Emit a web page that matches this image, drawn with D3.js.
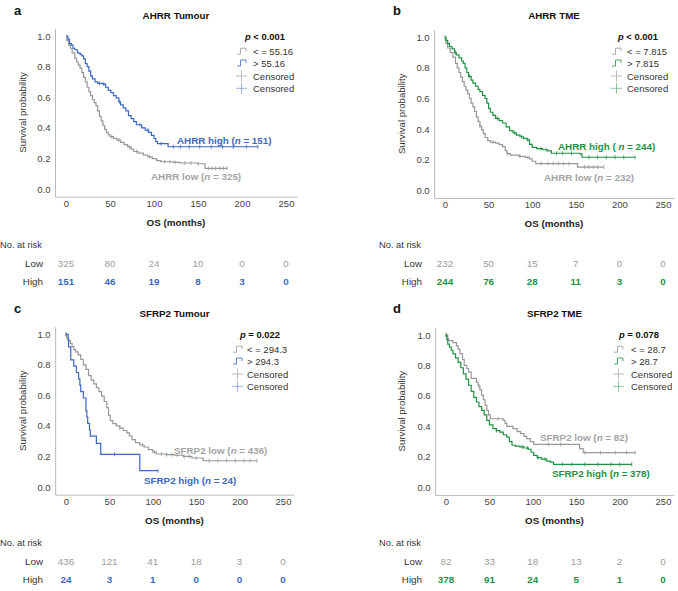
<!DOCTYPE html>
<html><head><meta charset="utf-8">
<script src="https://cdn.jsdelivr.net/npm/d3@7"></script>
<style>body{margin:0;background:#fff} svg{display:block} text{font-family:"Liberation Sans",Arial,Helvetica,sans-serif}</style>
</head><body><svg id="chart" width="678" height="591"></svg>
<script>
// ---------- data ----------
const xTicks = [0, 50, 100, 150, 200, 250];
const yTicks = [0, 0.2, 0.4, 0.6, 0.8, 1.0];
const riskTimes = [0, 50, 100, 150, 200, 250];
const panelLetters = ["a", "b", "c", "d"];
const panelTitles = ["AHRR Tumour", "AHRR TME", "SFRP2 Tumour", "SFRP2 TME"];
const pOps = ["<", "<", "=", "="];
const pValues = ["0.001", "0.001", "0.022", "0.078"];
const cutLow = ["< = 55.16", "< = 7.815", "< = 294.3", "< = 28.7"];
const cutHigh = ["> 55.16", "> 7.815", "> 294.3", "> 28.7"];
const geneNames = ["AHRR", "AHRR", "SFRP2", "SFRP2"];
const nLow = [325, 232, 436, 82];
const nHigh = [151, 244, 24, 378];
const riskLow = [
  [325, 80, 24, 10, 0, 0],
  [232, 50, 15, 7, 0, 0],
  [436, 121, 41, 18, 3, 0],
  [82, 33, 18, 13, 2, 0]
];
const riskHigh = [
  [151, 46, 19, 8, 3, 0],
  [244, 76, 28, 11, 3, 0],
  [24, 3, 1, 0, 0, 0],
  [378, 91, 24, 5, 1, 0]
];

// Kaplan-Meier steps [months, survival]
const aLowSteps = [[0,1.0],[1,0.97],[3,0.94],[5,0.92],[7,0.89],[10,0.855],[12,0.83],[14,0.81],[16,0.79],[18,0.76],[20,0.73],[22,0.70],[24,0.665],[26,0.635],[28,0.61],[30,0.585],[32,0.565],[34,0.545],[36,0.51],[38,0.475],[40,0.445],[42,0.415],[44,0.39],[46,0.37],[48,0.355],[50,0.342],[54,0.33],[58,0.32],[62,0.305],[66,0.29],[70,0.275],[74,0.26],[77,0.245],[82,0.235],[88,0.222],[93,0.21],[98,0.198],[103,0.185],[108,0.178],[122,0.174],[130,0.17],[150,0.165],[158,0.135],[183,0.135]];
const aLowCensor = [52,60,72,80,95,112,118,124,135,142,150,162,166,170,175,179,183];
const aHighSteps = [[0,1.0],[2,0.98],[4,0.95],[6,0.94],[8,0.92],[10,0.91],[13,0.89],[16,0.88],[18,0.87],[20,0.85],[22,0.82],[24,0.80],[26,0.77],[28,0.74],[30,0.72],[33,0.70],[36,0.69],[42,0.685],[45,0.665],[48,0.645],[51,0.63],[54,0.61],[57,0.595],[60,0.57],[62,0.55],[65,0.53],[68,0.51],[71,0.48],[74,0.46],[77,0.44],[80,0.42],[86,0.40],[90,0.385],[94,0.37],[97,0.35],[100,0.33],[102,0.31],[104,0.296],[116,0.276],[218,0.276]];
const aHighCensor = [38,43,61,84,93,108,122,130,140,152,165,178,190,205,218];

const bLowSteps = [[0,1.0],[1,0.96],[3,0.93],[6,0.90],[9,0.87],[12,0.83],[14,0.80],[16,0.77],[18,0.74],[20,0.71],[22,0.68],[24,0.655],[26,0.63],[28,0.60],[30,0.57],[32,0.545],[34,0.515],[36,0.48],[38,0.45],[40,0.42],[42,0.395],[44,0.37],[46,0.345],[49,0.325],[52,0.315],[58,0.308],[62,0.298],[66,0.285],[69,0.26],[71,0.24],[75,0.23],[85,0.222],[92,0.215],[97,0.205],[100,0.19],[104,0.175],[150,0.175],[152,0.152],[182,0.152]];
const bLowCensor = [40,55,72,86,95,110,118,124,130,136,142,160,165,170,175,182];
const bHighSteps = [[0,1.0],[1,0.98],[3,0.96],[5,0.94],[8,0.925],[11,0.90],[13,0.885],[16,0.865],[19,0.845],[21,0.83],[23,0.80],[25,0.77],[27,0.745],[30,0.72],[32,0.70],[35,0.68],[38,0.66],[40,0.645],[43,0.62],[46,0.60],[48,0.57],[50,0.535],[52,0.51],[55,0.49],[58,0.47],[62,0.455],[66,0.44],[70,0.415],[74,0.39],[78,0.375],[82,0.36],[86,0.35],[90,0.34],[94,0.33],[97,0.30],[100,0.28],[105,0.272],[112,0.265],[118,0.258],[122,0.242],[155,0.238],[157,0.216],[218,0.216]];
const bHighCensor = [0,12,28,60,80,88,95,110,116,128,135,145,165,175,185,195,205,218];

const cLowSteps = [[0,1.0],[1,0.975],[3,0.96],[5,0.94],[7,0.92],[9,0.90],[11,0.885],[14,0.865],[17,0.835],[20,0.80],[23,0.77],[26,0.73],[29,0.70],[32,0.675],[35,0.65],[38,0.625],[41,0.595],[44,0.56],[47,0.52],[49,0.47],[51,0.435],[54,0.415],[58,0.40],[62,0.385],[66,0.37],[70,0.355],[73,0.335],[76,0.31],[80,0.29],[85,0.275],[90,0.262],[95,0.245],[100,0.228],[104,0.216],[115,0.212],[125,0.208],[135,0.20],[145,0.19],[158,0.172],[220,0.172]];
const cLowCensor = [0,62,88,102,110,116,122,128,136,142,150,165,175,185,195,205,212,220];
const cHighSteps = [[0,1.0],[2.5,0.958],[3,0.917],[5.5,0.833],[9,0.792],[12,0.75],[14.5,0.708],[16,0.667],[17,0.625],[20,0.583],[23,0.50],[24,0.458],[25,0.417],[27,0.375],[28,0.333],[35,0.286],[40,0.214],[85,0.107],[106,0.107]];
const cHighCensor = [0,56,106];

const dLowSteps = [[0,1.0],[2,0.976],[3,0.963],[8,0.95],[12,0.93],[14,0.905],[16,0.878],[19,0.84],[21,0.80],[24,0.78],[26,0.756],[29,0.715],[35,0.69],[37,0.665],[39,0.64],[41,0.605],[43,0.575],[45,0.54],[47,0.505],[49,0.475],[51,0.45],[66,0.44],[68,0.42],[70,0.40],[77,0.385],[82,0.365],[86,0.353],[90,0.335],[93,0.32],[97,0.30],[101,0.282],[151,0.282],[154,0.254],[158,0.228],[218,0.228]];
const dLowCensor = [0,38,60,118,132,160,178,195,208,218];
const dHighSteps = [[0,1.0],[1,0.97],[2,0.94],[4,0.92],[6,0.90],[8,0.876],[11,0.85],[14,0.82],[17,0.785],[20,0.745],[23,0.71],[26,0.67],[29,0.63],[32,0.59],[35,0.56],[38,0.53],[41,0.505],[44,0.475],[47,0.44],[50,0.41],[54,0.385],[58,0.372],[62,0.362],[66,0.345],[70,0.33],[73,0.30],[76,0.276],[80,0.27],[85,0.265],[90,0.258],[95,0.25],[98,0.23],[101,0.21],[105,0.195],[110,0.185],[116,0.172],[120,0.165],[124,0.151],[214,0.151]];
const dHighCensor = [0,58,88,94,106,114,134,145,160,175,190,200,214];

const lowSteps = [aLowSteps, bLowSteps, cLowSteps, dLowSteps];
const lowCensor = [aLowCensor, bLowCensor, cLowCensor, dLowCensor];
const highSteps = [aHighSteps, bHighSteps, cHighSteps, dHighSteps];
const highCensor = [aHighCensor, bHighCensor, cHighCensor, dHighCensor];

// ---------- styling / layout ----------
const BLUE = "#3c67c5", GREEN = "#1f9143", GRAY = "#979797", GRAYTXT = "#a4a4a4";
const highColors = [BLUE, GREEN, BLUE, GREEN];
const layout = [
  {ox:0,   oy:0,   x0:66,  x250:286, y1:36,    y0:189,   pX:245, keyX:237, txtX:253, hiLbl:[177,139.5], loLbl:[151,176]},
  {ox:379, oy:0,   x0:445, x250:663, y1:37.3,  y0:190.3, pX:618, keyX:612, txtX:627, hiLbl:[558,146], loLbl:[544,176.7]},
  {ox:0,   oy:298, x0:66,  x250:283, y1:334.3, y0:487,   pX:240, keyX:233, txtX:247, hiLbl:[144,480], loLbl:[174,449.5]},
  {ox:379, oy:298, x0:446, x250:663, y1:335,   y0:487.3, pX:619, keyX:614, txtX:631, hiLbl:[552,473], loLbl:[540,436.5]}
];
const hiParen = ["(", "( ", "(", "("];

const svg = d3.select("#chart");
const FONT = '"Liberation Sans",Arial,Helvetica,sans-serif';

function survAt(steps, t) {
  let s = steps[0][1];
  for (const p of steps) { if (p[0] <= t) s = p[1]; else break; }
  return s;
}

for (let i = 0; i < 4; i++) {
  const L = layout[i];
  const g = svg.append("g");
  const kx = (L.x250 - L.x0) / 250;
  const x = d3.scaleLinear().domain([-12.5, 262.5]).range([L.x0 - 12.5 * kx, L.x250 + 12.5 * kx]);
  const ky = L.y0 - L.y1;
  const y = d3.scaleLinear().domain([-0.05, 1.05]).range([L.y0 + 0.05 * ky, L.y1 - 0.05 * ky]);

  // panel letter and title
  g.append("text").attr("x", L.ox + 14).attr("y", L.oy + 14.5).attr("font-size", 13).attr("font-weight", "bold").attr("fill", "#111").text(panelLetters[i]);
  const cx = (x(-12.5) + x(262.5)) / 2;
  g.append("text").attr("x", cx).attr("y", L.oy + 15).attr("dominant-baseline", "central").attr("text-anchor", "middle")
    .attr("font-size", 9.8).attr("font-weight", "bold").attr("fill", "#111").text(panelTitles[i]);

  // axes
  const xa = g.append("g").attr("transform", `translate(0,${y(-0.05)})`)
    .call(d3.axisBottom(x).tickValues(xTicks).tickSize(0).tickPadding(3.5).tickFormat(d3.format("d")));
  const ya = g.append("g").attr("transform", `translate(${x(-12.5)},0)`)
    .call(d3.axisLeft(y).tickValues(yTicks).tickSize(0).tickPadding(4.5).tickFormat(d3.format(".1f")));
  [xa, ya].forEach(a => {
    a.attr("font-family", FONT).attr("font-size", 9.5);
    a.select(".domain").attr("stroke", "#b9b9b9").attr("stroke-width", 1);
    a.selectAll("text").attr("fill", "#444");
  });
  g.append("text").attr("transform", `translate(${L.ox + 22},${(y(-0.05) + y(1.05)) / 2}) rotate(-90)`)
    .attr("text-anchor", "middle").attr("dominant-baseline", "central").attr("font-size", 9.6).attr("fill", "#333").text("Survival probability");
  g.append("text").attr("x", cx).attr("y", y(-0.05) + 26).attr("text-anchor", "middle").attr("dominant-baseline", "central")
    .attr("font-size", 9.8).attr("font-weight", "bold").attr("fill", "#222").text("OS (months)");

  // curves
  const line = d3.line().x(d => x(d[0])).y(d => y(d[1])).curve(d3.curveStepAfter);
  const series = [
    {steps: lowSteps[i], cens: lowCensor[i], color: GRAY},
    {steps: highSteps[i], cens: highCensor[i], color: highColors[i]}
  ];
  series.forEach(s => {
    g.append("path").datum(s.steps).attr("d", line).attr("fill", "none").attr("stroke", s.color).attr("stroke-width", 1.2);
    g.append("g").selectAll("line").data(s.cens).join("line")
      .attr("x1", d => x(d)).attr("x2", d => x(d))
      .attr("y1", d => y(survAt(s.steps, d)) - 2).attr("y2", d => y(survAt(s.steps, d)) + 2)
      .attr("stroke", s.color).attr("stroke-width", 0.9).attr("opacity", 0.85);
  });

  // curve labels
  function curveLabel(pos, color, txt, paren, n) {
    const t = g.append("text").attr("x", pos[0]).attr("y", pos[1]).attr("dominant-baseline", "central")
      .attr("font-size", 9.8).attr("font-weight", "bold").attr("fill", color);
    t.append("tspan").text(txt + " " + paren);
    t.append("tspan").attr("font-style", "italic").text("n");
    t.append("tspan").text(" = " + n + ")");
  }
  curveLabel(L.hiLbl, highColors[i], geneNames[i] + " high", hiParen[i], nHigh[i]);
  curveLabel(L.loLbl, GRAYTXT, geneNames[i] + " low", "(", nLow[i]);

  // legend
  const ly = L.oy;
  const pt = g.append("text").attr("x", L.pX).attr("y", ly + 35.5).attr("dominant-baseline", "central")
    .attr("font-size", 9.4).attr("font-weight", "bold").attr("fill", "#111");
  pt.append("tspan").attr("font-style", "italic").text("p");
  pt.append("tspan").text(" " + pOps[i] + " " + pValues[i]);
  const rows = [ly + 51.7, ly + 63.5, ly + 76, ly + 88.3];
  const legTexts = [cutLow[i], cutHigh[i], "Censored", "Censored"];
  const legColors = [GRAY, highColors[i], "#b5b5b5", highColors[i]];
  rows.forEach((ry, j) => {
    if (j < 2) {
      g.append("path").attr("d", `M${L.keyX},${ry + 2.5}H${L.keyX + 3.5}V${ry - 3.5}H${L.keyX + 9}V${ry - 0.5}`)
        .attr("fill", "none").attr("stroke", legColors[j]).attr("stroke-width", 1).attr("opacity", 0.8);
    } else {
      g.append("path").attr("d", `M${L.keyX - 1},${ry}H${L.keyX + 10}M${L.keyX + 4.5},${ry - 5.5}V${ry + 5.5}`)
        .attr("fill", "none").attr("stroke", legColors[j]).attr("stroke-width", 0.9).attr("opacity", j === 3 ? 0.55 : 1);
    }
    g.append("text").attr("x", L.txtX).attr("y", ry).attr("dominant-baseline", "central")
      .attr("font-size", 9.5).attr("fill", "#333").text(legTexts[j]);
  });

  // risk table
  g.append("text").attr("x", L.ox + 0).attr("y", ly + 245).attr("dominant-baseline", "central")
    .attr("font-size", 9.3).attr("fill", "#333").text("No. at risk");
  g.append("text").attr("x", L.ox + 43).attr("y", ly + 263).attr("text-anchor", "end").attr("dominant-baseline", "central")
    .attr("font-size", 9.8).attr("fill", "#333").text("Low");
  g.append("text").attr("x", L.ox + 43).attr("y", ly + 281.7).attr("text-anchor", "end").attr("dominant-baseline", "central")
    .attr("font-size", 9.8).attr("fill", "#333").text("High");
  g.append("g").selectAll("text").data(riskLow[i]).join("text")
    .attr("x", (d, k) => x(riskTimes[k])).attr("y", ly + 263).attr("text-anchor", "middle").attr("dominant-baseline", "central")
    .attr("font-size", 9.8).attr("fill", "#9c9c9c").text(d => d);
  g.append("g").selectAll("text").data(riskHigh[i]).join("text")
    .attr("x", (d, k) => x(riskTimes[k])).attr("y", ly + 281.7).attr("text-anchor", "middle").attr("dominant-baseline", "central")
    .attr("font-size", 9.8).attr("font-weight", "bold").attr("fill", highColors[i]).text(d => d);
}
</script>
</body></html>
